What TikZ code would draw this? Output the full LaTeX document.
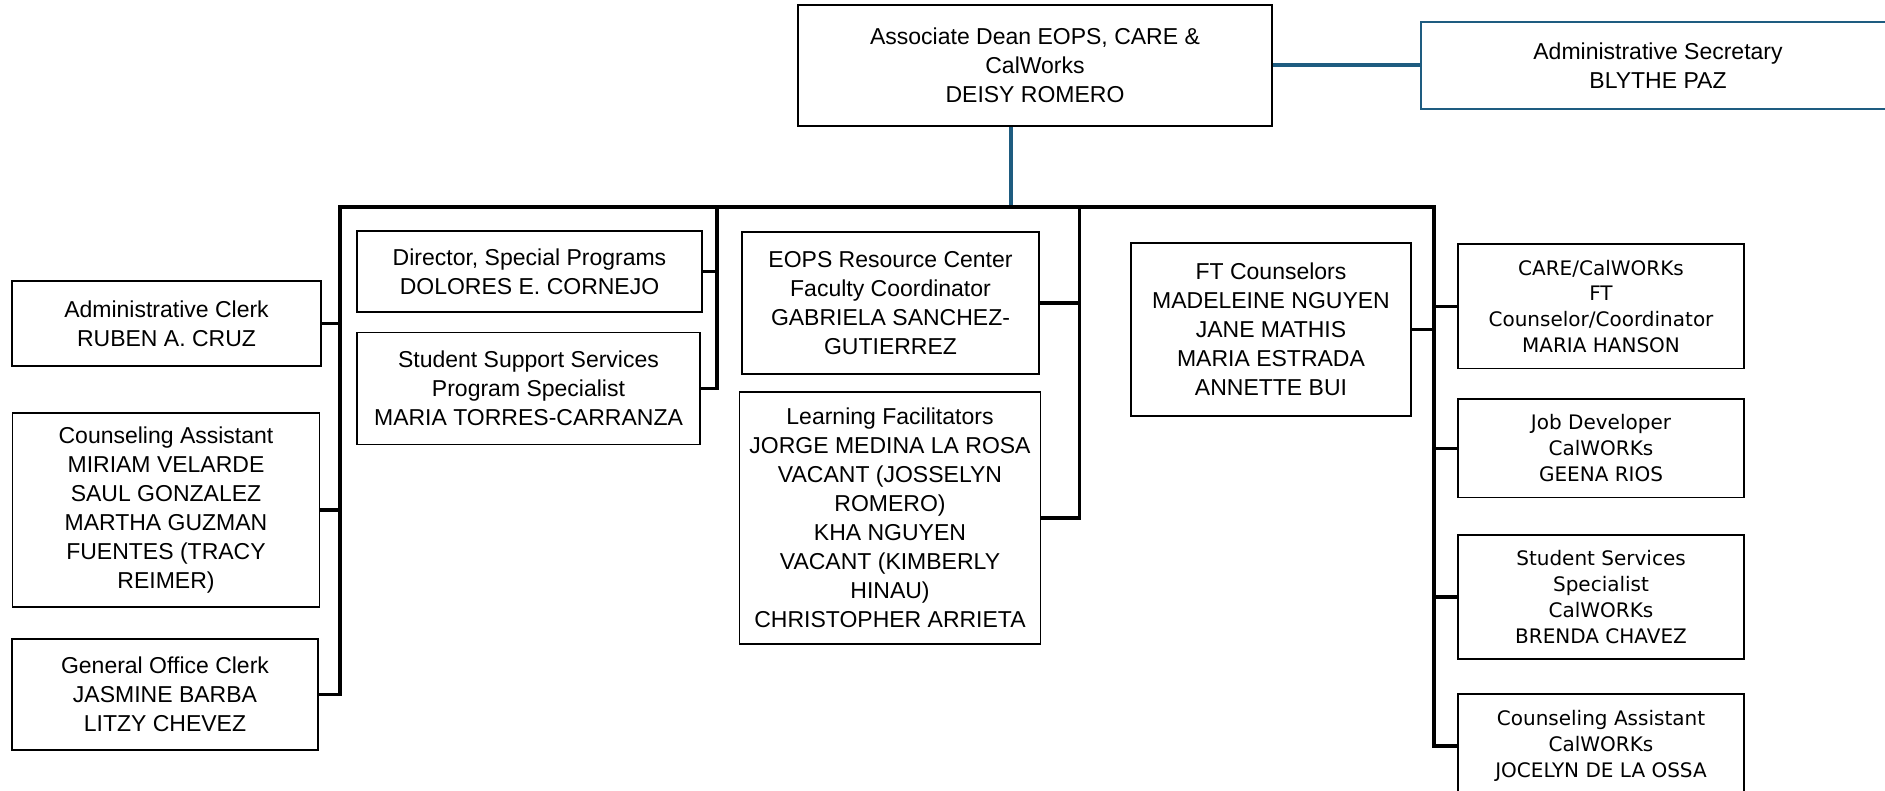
\documentclass[tikz,border=0pt]{standalone}
\usepackage{fontspec}
\setmainfont{Liberation Sans}
\newfontfamily\cwfont{DejaVu Sans}
\usetikzlibrary{calc}

\definecolor{deanblue}{RGB}{30,92,128}

\begin{document}
\begin{tikzpicture}[x=1pt, y=-1pt,
    box/.style={draw, line width=1.6pt, align=center, inner sep=0pt, font=\fontsize{23}{29}\selectfont},
    cwbox/.style={box, minimum width=286pt, font=\cwfont\fontsize{20}{25.8}\selectfont},
    link/.style={line width=3.5pt},
    bluelink/.style={draw=deanblue, line width=3.2pt}]
      \useasboundingbox (0,0) rectangle (1885,791);

      \node[box, minimum width=474pt, minimum height=121pt] (dean) at (1035,65.5) {Associate Dean EOPS, CARE \&\\CalWorks\\DEISY ROMERO};
      \node[box, draw=deanblue, line width=1.4pt, minimum width=474pt, minimum height=87pt] (sec) at (1658,65.5) {Administrative Secretary\\BLYTHE PAZ};

      \node[box, minimum width=309pt, minimum height=85pt] (clerk) at (166.5,323.5) {Administrative Clerk\\RUBEN A. CRUZ};
      \node[box, minimum width=307pt, minimum height=194pt] (ca) at (166,510) {Counseling Assistant\\MIRIAM VELARDE\\SAUL GONZALEZ\\MARTHA GUZMAN\\FUENTES (TRACY\\REIMER)};
      \node[box, minimum width=306pt, minimum height=111pt] (goc) at (165,694.5) {General Office Clerk\\JASMINE BARBA\\LITZY CHEVEZ};

      \node[box, minimum width=345pt, minimum height=81pt] (dir) at (529.5,271.5) {Director, Special Programs\\DOLORES E. CORNEJO};
      \node[box, minimum width=343pt, minimum height=112pt] (sss) at (528.5,388.5) {Student Support Services\\Program Specialist\\MARIA TORRES-CARRANZA};

      \node[box, minimum width=297pt, minimum height=142pt] (eops) at (890.5,303) {EOPS Resource Center\\Faculty Coordinator\\GABRIELA SANCHEZ-\\GUTIERREZ};
      \node[box, minimum width=301pt, minimum height=252pt] (lf) at (890,518) {Learning Facilitators\\JORGE MEDINA LA ROSA\\VACANT (JOSSELYN\\ROMERO)\\KHA NGUYEN\\VACANT (KIMBERLY\\HINAU)\\CHRISTOPHER ARRIETA};

      \node[box, minimum width=280pt, minimum height=173pt] (ft) at (1271,329.5) {FT Counselors\\MADELEINE NGUYEN\\JANE MATHIS\\MARIA ESTRADA\\ANNETTE BUI};

      \node[cwbox, minimum height=124.5pt] (care) at (1601,306.3) {CARE/CalWORKs\\FT\\Counselor/Coordinator\\MARIA HANSON};
      \node[cwbox, minimum height=98.6pt] (job) at (1601,448.3) {Job Developer\\CalWORKs\\GEENA RIOS};
      \node[cwbox, minimum height=124pt] (sscw) at (1601,597) {Student Services\\Specialist\\CalWORKs\\BRENDA CHAVEZ};
      \node[cwbox, minimum height=104pt] (cacw) at (1601,746) {Counseling Assistant\\CalWORKs\\JOCELYN DE LA OSSA};

      \coordinate (spL) at (340,207);
      \coordinate (spD) at (717,207);
      \coordinate (spE) at (1079.5,207);
      \coordinate (spR) at (1434,207);
      \coordinate (drop) at (1011,207);

      \draw[bluelink] (dean.south -| drop) -- (drop);
      \draw[bluelink, line width=4pt] (dean.east) -- (sec.west);

      \draw[link] (goc.east) -| (spL) -- (spR) |- (cacw.west);
      \draw[link] (clerk.east) -- (clerk.east -| spL);
      \draw[link] (ca.east) -- (ca.east -| spL);
      \draw[link] (spD) |- (sss.east);
      \draw[link] (dir.east) -- (dir.east -| spD);
      \draw[link] (spE) |- (lf.east);
      \draw[link] (eops.east) -- (eops.east -| spE);
      \draw[link] (ft.east) -- (ft.east -| spR);
      \draw[link] (care.west) -- (care.west -| spR);
      \draw[link] (job.west) -- (job.west -| spR);
      \draw[link] (sscw.west) -- (sscw.west -| spR);
    \end{tikzpicture}
\end{document}
